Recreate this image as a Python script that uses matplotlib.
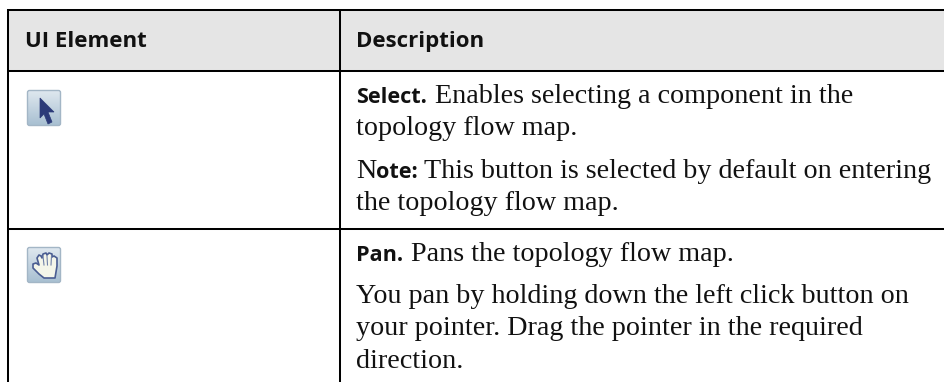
import numpy as np
import matplotlib
matplotlib.use("Agg")
from matplotlib import pyplot as plt
from matplotlib.patches import Rectangle, FancyBboxPatch, Polygon

W, H = 945, 382
headers = ["UI Element", "Description"]
select_lead = "Select."
select_lines = [" Enables selecting a component in the", "topology flow map."]
note_lines = ["This button is selected by default on entering", "the topology flow map."]
pan_lead = "Pan."
pan_first = " Pans the topology flow map."
pan_lines = ["You pan by holding down the left click button on",
             "your pointer. Drag the pointer in the required",
             "direction."]

sans = "Open Sans"
serif = "Liberation Serif"
ink = "#111111"
body_size = 20.25
bold_size = 15.6
head_size = 16.0

fig = plt.figure(figsize=(W / 100, H / 100), dpi=100)
ax = fig.add_axes([0, 0, 1, 1])
ax.set_xlim(0, W)
ax.set_ylim(H, 0)
ax.axis("off")

ax.add_patch(Rectangle((8, 10), W, 61, fc="#e5e5e5", ec="none"))
for y in [10, 71, 229]:
    ax.plot([7, W], [y, y], color="black", lw=1.45, solid_capstyle="butt")
for x in [8, 340]:
    ax.plot([x, x], [9, H], color="black", lw=1.45, solid_capstyle="butt")

ax.text(25, 47, headers[0], family=sans, weight="bold", size=head_size, color=ink)
ax.text(356, 47, headers[1], family=sans, weight="bold", size=head_size, color=ink)


def after(t):
    return ax.transData.inverted().transform(t.get_window_extent(fig.canvas.get_renderer()))[1][0]


def body(x, y, s):
    return ax.text(x, y, s, family=serif, size=body_size, color=ink)


def lead(x, y, s):
    return ax.text(x, y, s, family=sans, weight="bold", size=bold_size, color=ink)


body(after(lead(356, 103, select_lead)) + 1, 103, select_lines[0])
body(356, 135, select_lines[1])
# the N of Note is set in the body face in the original
n = body(356, 178, "N")
body(after(lead(after(n), 178, "ote:")) + 6, 178, note_lines[0])
body(356, 210, note_lines[1])
body(after(lead(356, 261, pan_lead)) + 1, 261, pan_first)
for y, line in zip([303, 335, 368], pan_lines):
    body(356, y, line)


def button(y):
    box = FancyBboxPatch((27.5, y), 33, 35, boxstyle="round,pad=0,rounding_size=2",
                         fc="none", ec="#a3b6c6", lw=1, zorder=3)
    ax.add_patch(box)
    grad = np.linspace(0, 1, 36)[:, None]
    im = ax.imshow(grad, extent=(27.5, 60.5, y + 35, y), cmap=matplotlib.colors.LinearSegmentedColormap.from_list(
        "btn", ["#dfe8ef", "#a9c0d2"]), aspect="auto", zorder=2)
    im.set_clip_path(box)


button(90.5)
ax.add_patch(Polygon([(40, 98), (54, 112), (48, 112), (52, 122), (48, 124), (44, 114), (40, 118)],
                     fc="#2b3a78", ec="#2b3a78", lw=0.5, zorder=4))

button(247.5)
hand = [(44, 278), (39, 274), (33, 268), (33, 264), (36, 263), (39, 265), (37, 258), (39, 255), (41, 256),
        (42, 258), (43, 254), (46, 253), (47, 255), (49, 253), (52, 254), (52, 257), (54, 256), (57, 258),
        (57, 266), (55, 278)]
ax.add_patch(Polygon(hand, fc="#f4f6ea", ec="#4a5d92", lw=1.2, joinstyle="round", zorder=4))
for x0, x1 in [(43, 44), (47, 47.5), (51.5, 51)]:
    ax.plot([x0, x1], [256, 265], color="#6f80a8", lw=0.8, zorder=5)
ax.set_xlim(0, W)
ax.set_ylim(H, 0)

fig.savefig("out.png", dpi=100)
